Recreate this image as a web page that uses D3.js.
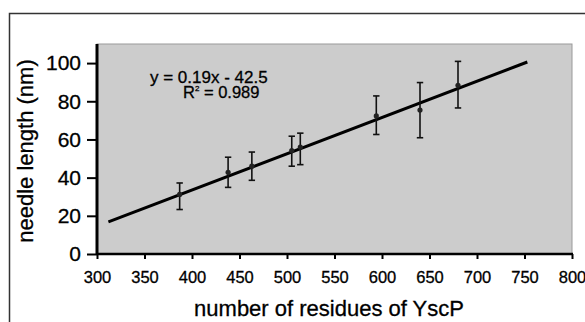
<!DOCTYPE html>
<html>
<head>
<meta charset="utf-8">
<script src="https://cdn.jsdelivr.net/npm/d3@7"></script>
<style>
  html, body { margin: 0; padding: 0; background: #fff; }
  svg { display: block; font-family: "Liberation Sans", Arial, Helvetica, sans-serif; }
  svg text { stroke: #000; stroke-width: 0.3px; }
</style>
</head>
<body>
<svg id="chart" width="585" height="322"></svg>
<script>
// YscP length (residues) vs. measured needle length (nm), mean ± SD
const residues   = [387, 438, 463, 505, 514, 594, 640, 680];
const needleLen  = [31.2, 42.8, 46.0, 54.2, 56.0, 72.3, 75.4, 88.4];
const errLow     = [23.3, 34.9, 38.6, 46.0, 46.8, 62.6, 60.9, 76.5];
const errHigh    = [37.2, 50.7, 53.4, 61.7, 63.3, 82.8, 89.8, 100.9];

// Linear fit
const slope = 0.19, intercept = -42.5, rSquared = 0.989;
const fitRange = [312, 753];

const xTicks = [300, 350, 400, 450, 500, 550, 600, 650, 700, 750, 800];
const yTicks = [0, 20, 40, 60, 80, 100];

const svg = d3.select("#chart");
const plot = { left: 97, top: 44, right: 572, bottom: 254 };

const x = d3.scaleLinear().domain([300, 800]).range([plot.left, plot.right]);
const y = d3.scaleLinear().domain([0, 110]).range([plot.bottom, plot.top]);

// outer frame
svg.append("path")
  .attr("d", "M9.5,330 V13.5 H600")
  .attr("fill", "none")
  .attr("stroke", "#333")
  .attr("stroke-width", 1.5);

// plot background
svg.append("rect")
  .attr("x", plot.left).attr("y", plot.top)
  .attr("width", plot.right - plot.left).attr("height", plot.bottom - plot.top)
  .attr("fill", "#cccccc")
  .attr("stroke", "#9a9a9a")
  .attr("stroke-width", 1);

// axes
const xAxis = d3.axisBottom(x).tickValues(xTicks).tickSize(5).tickPadding(12).tickFormat(d3.format("d"));
const yAxis = d3.axisLeft(y).tickValues(yTicks).tickSize(10).tickPadding(6).tickFormat(d3.format("d"));

const gx = svg.append("g").attr("transform", `translate(0,${plot.bottom})`).call(xAxis);
gx.select(".domain").attr("stroke", "#000").attr("stroke-width", 2.5).attr("d", `M${plot.left},0H${plot.right + 1}`);
gx.selectAll(".tick line").attr("stroke", "#000").attr("stroke-width", 2);
gx.selectAll(".tick text").attr("fill", "#000").attr("font-size", 16.5).attr("font-family", "Liberation Sans, Arial, sans-serif");

const gy = svg.append("g").attr("transform", `translate(${plot.left},0)`).call(yAxis);
gy.select(".domain").attr("stroke", "#000").attr("stroke-width", 3).attr("d", `M0,${plot.top}V${plot.bottom + 1}`);
gy.selectAll(".tick line").attr("stroke", "#000").attr("stroke-width", 2);
gy.selectAll(".tick text").attr("fill", "#000").attr("font-size", 21).attr("font-family", "Liberation Sans, Arial, sans-serif");

// axis titles
svg.append("text")
  .attr("x", (193 + 465) / 2).attr("y", 316)
  .attr("text-anchor", "middle")
  .attr("font-size", 22)
  .attr("fill", "#000")
  .text("number of residues of YscP");

svg.append("text")
  .attr("transform", "translate(33,151) rotate(-90)")
  .attr("text-anchor", "middle")
  .attr("font-size", 22)
  .attr("fill", "#000")
  .text("needle length (nm)");

// trend line
const fitPts = fitRange.map(v => [v, slope * v + intercept]);
svg.append("path")
  .attr("d", d3.line().x(d => x(d[0])).y(d => y(d[1]))(fitPts))
  .attr("fill", "none")
  .attr("stroke", "#000")
  .attr("stroke-width", 3);

// error bars and points
const data = residues.map((r, i) => ({ r, v: needleLen[i], lo: errLow[i], hi: errHigh[i] }));
const eb = svg.append("g").attr("stroke", "#111").attr("stroke-width", 1.6);
const capW = 3.2;
data.forEach(d => {
  const cx = x(d.r);
  eb.append("line").attr("x1", cx).attr("x2", cx).attr("y1", y(d.lo)).attr("y2", y(d.hi));
  eb.append("line").attr("x1", cx - capW).attr("x2", cx + capW).attr("y1", y(d.lo)).attr("y2", y(d.lo));
  eb.append("line").attr("x1", cx - capW).attr("x2", cx + capW).attr("y1", y(d.hi)).attr("y2", y(d.hi));
});
svg.append("g").selectAll("circle").data(data).join("circle")
  .attr("cx", d => x(d.r)).attr("cy", d => y(d.v)).attr("r", 2.6)
  .attr("fill", "#222");

// regression annotation
svg.append("text")
  .attr("x", 150).attr("y", 83)
  .attr("font-size", 17)
  .attr("fill", "#000")
  .text(`y = ${slope}x - ${Math.abs(intercept)}`);

const r2 = svg.append("text")
  .attr("x", 183).attr("y", 97.5)
  .attr("font-size", 16.5)
  .attr("fill", "#000");
r2.append("tspan").text("R");
r2.append("tspan").attr("font-size", 8).attr("dy", -7).text("2");
r2.append("tspan").attr("dy", 7).text(` = ${rSquared}`);
</script>
</body>
</html>
